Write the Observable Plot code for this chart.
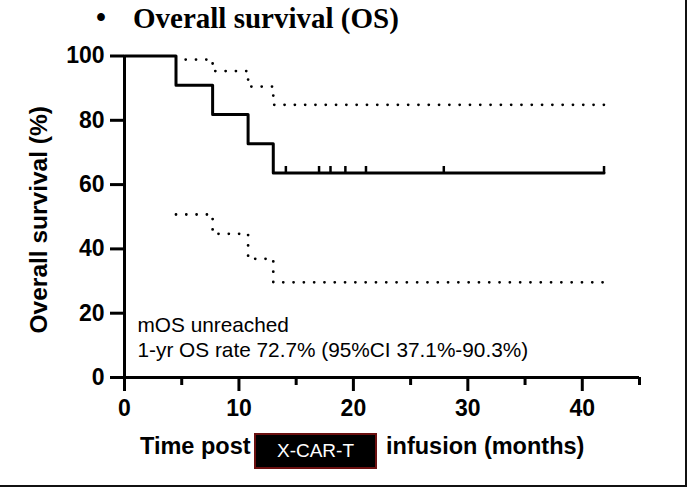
<!DOCTYPE html>
<html><head><meta charset="utf-8">
<script src="https://cdn.jsdelivr.net/npm/d3@7"></script>
<script src="https://cdn.jsdelivr.net/npm/@observablehq/plot@0.6"></script>
<style>
html,body{margin:0;padding:0;background:#fff;}
#wrap{position:relative;width:692px;height:488px;overflow:hidden;font-family:"Liberation Sans",Arial,sans-serif;color:#000;}
#frame{position:absolute;left:0;top:0;width:685px;height:485px;border-right:2px solid #111;border-bottom:2px solid #111;box-sizing:content-box;}
.t{position:absolute;white-space:pre;line-height:1;}
#bullet{left:96px;top:2px;font:bold 28.5px "Liberation Serif","Times New Roman",serif;}
#title{left:133px;top:2px;font:bold 29px "Liberation Serif","Times New Roman",serif;}
#xt1{left:140px;top:435px;font-weight:bold;font-size:23.5px;}
#xt2{left:386px;top:435px;font-weight:bold;font-size:23.5px;}
#box{position:absolute;left:254px;top:433px;width:123px;height:36px;background:#000;border:2px solid #6b1010;box-sizing:border-box;color:#fff;font-size:19px;display:flex;align-items:center;justify-content:center;}
#chart{position:absolute;left:0;top:0;}
</style>
</head><body>
<div id="wrap">
  <div id="frame"></div>
  <div class="t" id="bullet">•</div>
  <div class="t" id="title">Overall survival (OS)</div>
  <div class="t" id="xt1">Time post</div>
  <div id="box">X-CAR-T</div>
  <div class="t" id="xt2">infusion (months)</div>
  <div id="chart"></div>
</div>
<script>
// Kaplan-Meier overall survival (months, %)
const kmTimes = [0, 4.5, 7.7, 10.8, 13.0, 41.9];
const kmSurv = [100, 90.9, 81.8, 72.7, 63.6, 63.6];
// censored observations
const censorTimes = [14.1, 17.0, 18.0, 19.3, 21.1, 27.9, 41.9];
const censorSurv = [63.6, 63.6, 63.6, 63.6, 63.6, 63.6, 63.6];
// 95% confidence band
const ciTimes = [4.5, 7.7, 10.8, 13.0, 41.9];
const ciUpper = [98.9, 95.3, 90.5, 84.8, 84.8];
const ciLower = [50.7, 44.7, 36.9, 29.6, 29.6];
// axis ticks
const yTicks = [0, 20, 40, 60, 80, 100];
const xMajor = [0, 10, 20, 30, 40];
const xMinor = [5, 15, 25, 35, 45];
const yTitle = "Overall survival (%)";
const note = "mOS unreached\n1-yr OS rate 72.7% (95%CI 37.1%-90.3%)";

const km = kmTimes.map((t, i) => ({t, s: kmSurv[i]}));
const cens = censorTimes.map((t, i) => ({t, s: censorSurv[i]}));
const up = ciTimes.map((t, i) => ({t, s: ciUpper[i]}));
const lo = ciTimes.map((t, i) => ({t, s: ciLower[i]}));

const censorMark = {draw(ctx) { ctx.moveTo(0, 0); ctx.lineTo(0, -7); }};

const font = '"Liberation Sans", Arial, sans-serif';
const chart = Plot.plot({
  width: 692, height: 488,
  marginLeft: 124, marginRight: 53, marginTop: 55.5, marginBottom: 111,
  style: {background: "transparent", overflow: "visible", fontFamily: font, color: "#000"},
  x: {domain: [0, 45]},
  y: {domain: [0, 100]},
  marks: [
    Plot.line(up, {x: "t", y: "s", curve: "step-after", stroke: "#000", strokeWidth: 2.8, strokeDasharray: "0,10.3", strokeDashoffset: 0.6, strokeLinecap: "round"}),
    Plot.line(lo, {x: "t", y: "s", curve: "step-after", stroke: "#000", strokeWidth: 2.8, strokeDasharray: "0,10.3", strokeLinecap: "round"}),
    Plot.line(km, {x: "t", y: "s", curve: "step-after", stroke: "#000", strokeWidth: 3}),
    Plot.dot(cens, {x: "t", y: "s", symbol: censorMark, stroke: "#000", fill: "none", strokeWidth: 2.5, r: 4}),
    Plot.axisY({ticks: yTicks, tickSize: 14, tickPadding: 6, fontSize: 23, fontWeight: "bold", strokeWidth: 3, label: null}),
    Plot.axisX({ticks: xMajor, tickSize: 14, tickPadding: 8, fontSize: 23, fontWeight: "bold", strokeWidth: 3, label: null}),
    Plot.axisX({ticks: xMinor, tickSize: 8, tickFormat: () => "", strokeWidth: 3, label: null}),
    Plot.ruleX([0], {strokeWidth: 3, stroke: "#000"}),
    Plot.ruleY([0], {strokeWidth: 3, stroke: "#000"}),
    Plot.text([yTitle], {frameAnchor: "left", dx: -85, dy: 3, rotate: -90, textAnchor: "middle", fontSize: 24.5, fontWeight: "bold", fill: "#000"}),
    Plot.text([note], {frameAnchor: "bottom-left", dx: 13, dy: -21, textAnchor: "start", lineAnchor: "bottom", lineHeight: 1.2, fontSize: 20.8, fill: "#000"})
  ]
});
document.getElementById("chart").appendChild(chart);
</script>
</body></html>
